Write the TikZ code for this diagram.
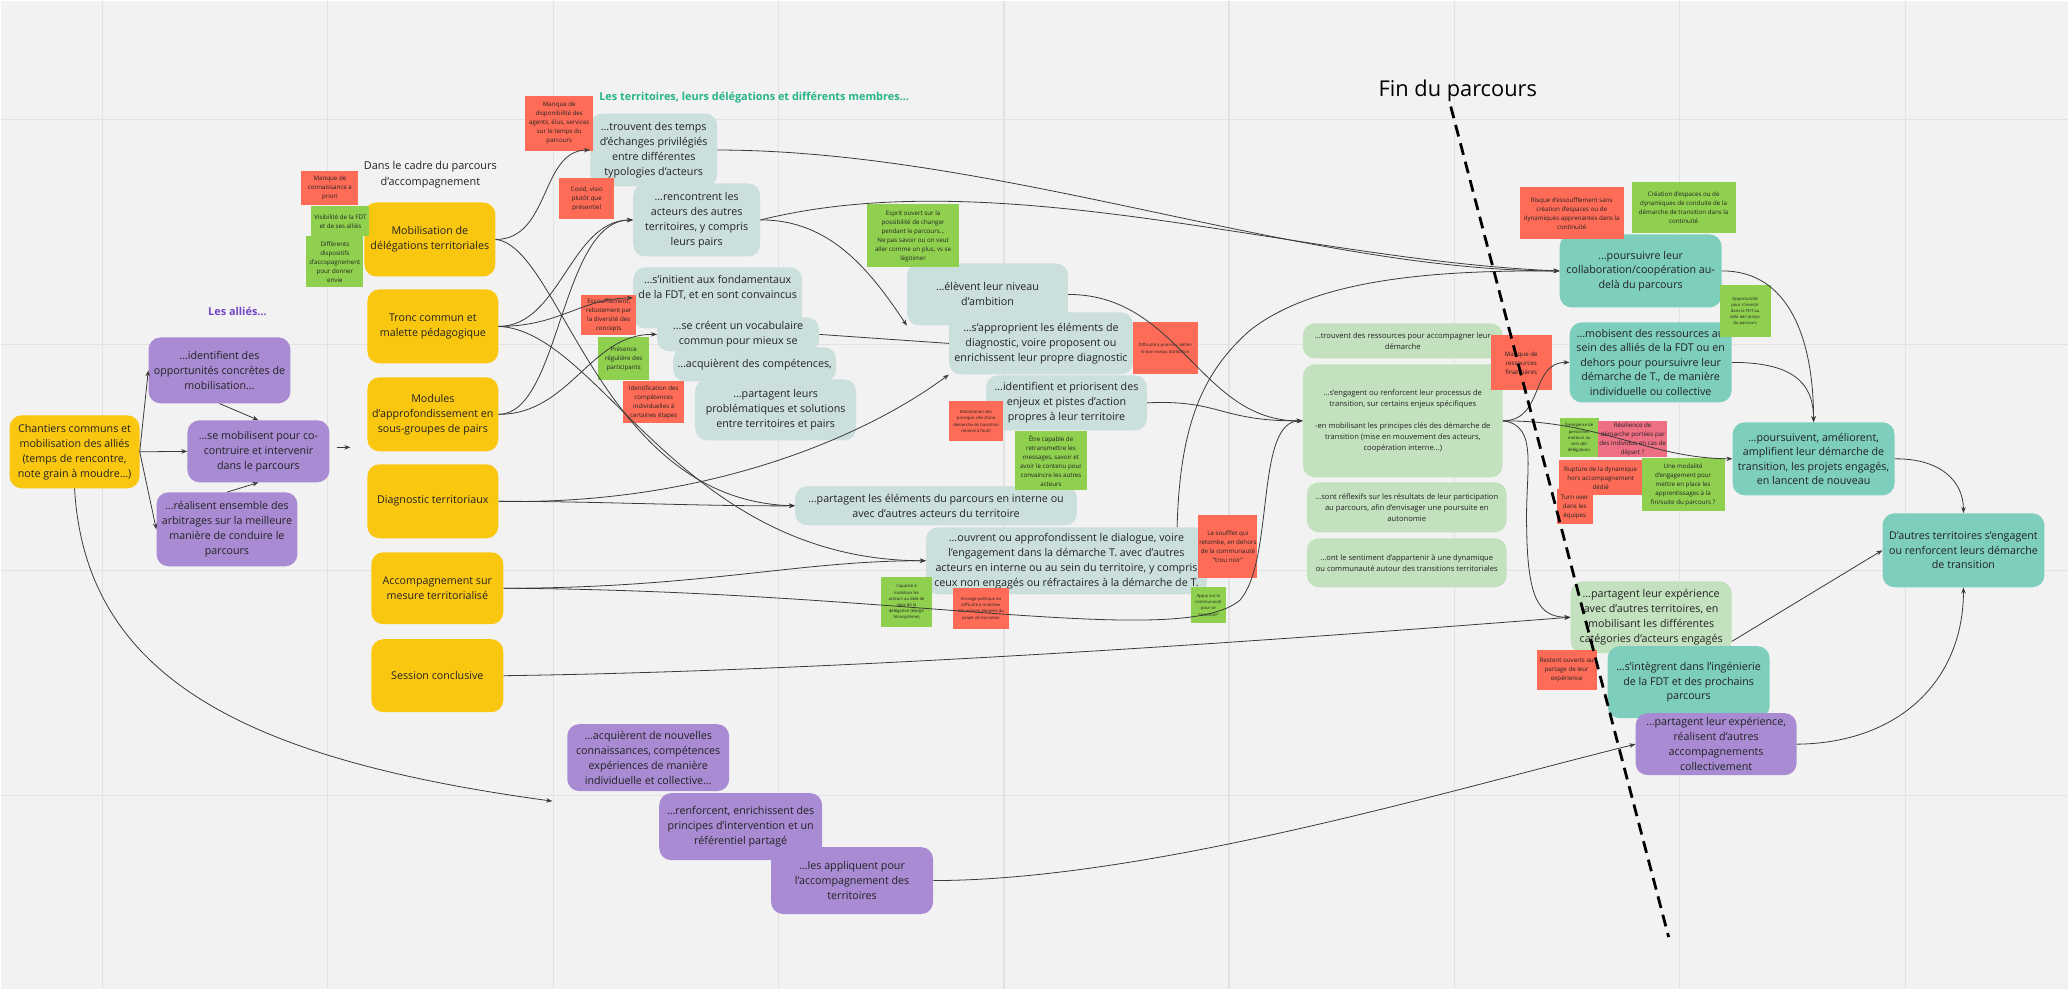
\documentclass[tikz,border=0pt]{standalone}
\usepackage{fontspec}
\setmainfont{Open Sans}
\usetikzlibrary{arrows.meta}
\definecolor{cBg}{HTML}{F2F2F2}
\definecolor{cGrid}{HTML}{E2E2E2}
\definecolor{cTxt}{HTML}{222222}
\definecolor{cLine}{HTML}{3A3A3A}
\definecolor{cYel}{HTML}{FAC710}
\definecolor{cPur}{HTML}{A88BD3}
\definecolor{cBlu}{HTML}{CBDFDD}
\definecolor{cLgr}{HTML}{C3E1BE}
\definecolor{cTea}{HTML}{7DCEBC}
\definecolor{cRed}{HTML}{FE6C57}
\definecolor{cGrn}{HTML}{8FD14F}
\definecolor{cPnk}{HTML}{EE6E83}
\definecolor{cPurT}{HTML}{7446C4}
\definecolor{cGrnT}{HTML}{26B38B}
\newcommand\Bx[7]{%
  \pgfmathsetmacro\bxcx{(#3+#5)/2}%
  \pgfmathsetmacro\bxcy{(#4+#6)/2}%
  \pgfmathsetmacro\bxw{#5-#3}%
  \pgfmathsetmacro\bxh{#6-#4}%
  \node[#2, minimum width=\bxw pt, minimum height=\bxh pt] (#1) at (\bxcx,\bxcy) {#7};}
\begin{document}
\begin{tikzpicture}[x=1pt,y=-1pt,
  box/.style={rounded corners=12pt, align=center, inner sep=2pt, text=cTxt, font=\fontsize{10.7}{15}\selectfont},
  yelbox/.style={box, fill=cYel},
  purbox/.style={box, fill=cPur},
  blubox/.style={box, fill=cBlu},
  lgrbox/.style={box, fill=cLgr, font=\fontsize{7.6}{11}\selectfont},
  lgrbig/.style={box, fill=cLgr},
  teabox/.style={box, fill=cTea, font=\fontsize{10.7}{14.5}\selectfont},
  stick/.style={align=center, inner sep=1pt, text=cTxt, font=\fontsize{6.2}{9}\selectfont},
  sred/.style={stick, fill=cRed},
  sgrn/.style={stick, fill=cGrn},
  spnk/.style={stick, fill=cPnk},
  tiny/.style={font=\fontsize{4.2}{6.2}\selectfont},
  conn/.style={draw=cLine, line width=0.8pt},
  arr/.style={conn, -{Stealth[length=6pt,width=4.5pt]}},
]
\fill[cBg] (0,0) rectangle (2069,989);
\foreach \x in {102,327,553,778,1004,1229,1455,1680,1906} \draw[cGrid, line width=1.2pt] (\x,0) -- (\x,989);
\foreach \y in {119,344,570,795} \draw[cGrid, line width=1.2pt] (0,\y) -- (2069,\y);
\useasboundingbox (0,0) rectangle (2069,989);

% titles
\node[text=cPurT, font=\bfseries\fontsize{10.9}{13}\selectfont] (lalli) at (237,311) {Les alliés…};
\node[text=cGrnT, font=\bfseries\fontsize{10.9}{13}\selectfont] (lterr) at (754,97) {Les territoires, leurs délégations et différents membres…};
\node[text=cTxt, align=center, font=\fontsize{10.9}{16}\selectfont] (ldans) at (430,174) {Dans le cadre du parcours\\d'accompagnement};
\node[text=black, font=\fontsize{21.8}{24}\selectfont] (lfin) at (1458,90) {Fin du parcours};

% yellow
\Bx{chant}{yelbox}{9}{415}{139}{488}{Chantiers communs et\\mobilisation des alliés\\(temps de rencontre,\\note grain à moudre…)}
\Bx{mob}{yelbox}{364}{202}{495}{276}{Mobilisation de\\délégations territoriales}
\Bx{tronc}{yelbox}{367}{289}{498}{363}{Tronc commun et\\malette pédagogique}
\Bx{modu}{yelbox}{367}{377}{498}{451}{Modules\\d'approfondissement en\\sous-groupes de pairs}
\Bx{diag}{yelbox}{367}{464}{498}{538}{Diagnostic territoriaux}
\Bx{accomp}{yelbox}{371}{552}{503}{624}{Accompagnement sur\\mesure territorialisé}
\Bx{sess}{yelbox}{371}{639}{503}{712}{Session conclusive}

% purple
\Bx{ident}{purbox}{148}{337}{290}{403}{…identifient des\\opportunités concrètes de\\mobilisation…}
\Bx{semob}{purbox}{187}{420}{329}{482}{…se mobilisent pour co-\\contruire et intervenir\\dans le parcours}
\Bx{real}{purbox}{156}{492}{297}{566}{…réalisent ensemble des\\arbitrages sur la meilleure\\manière de conduire le\\parcours}
\Bx{acqn}{purbox}{567}{724}{729}{791}{…acquièrent de nouvelles\\connaissances, compétences\\expériences de manière\\individuelle et collective…}
\Bx{renf}{purbox}{659}{793}{822}{860}{…renforcent, enrichissent des\\principes d'intervention et un\\référentiel partagé}
\Bx{appl}{purbox}{771}{847}{933}{914}{…les appliquent pour\\l'accompagnement des\\territoires}

% blue-grey
\Bx{trouv}{blubox}{590}{113}{717}{186}{…trouvent des temps\\d'échanges privilégiés\\entre différentes\\typologies d'acteurs}
\Bx{renc}{blubox}{633}{183}{760}{256}{…rencontrent les\\acteurs des autres\\territoires, y compris\\leurs pairs}
\Bx{init}{blubox}{633}{267}{802}{328}{…s'initient aux fondamentaux\\de la FDT, et en sont convaincus\\[8pt]}
\Bx{crea}{blubox}{657}{317}{819}{351}{…se créent un vocabulaire\\commun pour mieux se}
\Bx{acqc}{blubox}{673}{347}{836}{381}{…acquièrent des compétences,}
\Bx{partl}{blubox}{695}{379}{856}{440}{…partagent leurs\\problématiques et solutions\\entre territoires et pairs}
\Bx{elev}{blubox}{907}{263}{1068}{325}{…élèvent leur niveau\\d'ambition}
\Bx{appr}{blubox}{949}{312}{1133}{374}{…s'approprient les éléments de\\diagnostic, voire proposent ou\\enrichissent leur propre diagnostic}
\Bx{prio}{blubox}{986}{375}{1147}{430}{…identifient et priorisent des\\enjeux et pistes d'action\\propres à leur territoire}
\Bx{parte}{blubox}{795}{486}{1077}{525}{…partagent les éléments du parcours en interne ou\\avec d'autres acteurs du territoire}
\Bx{ouvr}{blubox}{926}{527}{1207}{594}{…ouvrent ou approfondissent le dialogue, voire\\l'engagement dans la démarche T. avec d'autres\\acteurs en interne ou au sein du territoire, y compris\\ceux non engagés ou réfractaires à la démarche de T.}

% light green
\Bx{tres}{lgrbox}{1303}{323}{1503}{358}{…trouvent des ressources pour accompagner leur\\démarche}
\Bx{eng}{lgrbox}{1303}{364}{1503}{477}{…s'engagent ou renforcent leur processus de\\transition, sur certains enjeux spécifiques\\[11pt]-en mobilisant les principes clés des démarche de\\transition (mise en mouvement des acteurs,\\coopération interne…)}
\Bx{refl}{lgrbox}{1307}{482}{1507}{532}{…sont réflexifs sur les résultats de leur participation\\au parcours, afin d'envisager une poursuite en\\autonomie}
\Bx{sent}{lgrbox}{1307}{538}{1507}{587}{…ont le sentiment d'appartenir à une dynamique\\ou communauté autour des transitions territoriales}
\Bx{gpart}{lgrbig}{1571}{581}{1732}{653}{…partagent leur expérience\\avec d'autres territoires, en\\mobilisant les différentes\\catégories d'acteurs engagés}

% teal
\Bx{pours}{teabox}{1560}{234}{1722}{307}{…poursuivre leur\\collaboration/coopération au-\\delà du parcours}
\Bx{mobi}{teabox}{1570}{322}{1732}{402}{…mobisent des ressources au\\sein des alliés de la FDT ou en\\dehors pour poursuivre leur\\démarche de T., de manière\\individuelle ou collective}
\Bx{poursv}{teabox}{1733}{422}{1895}{495}{…poursuivent, améliorent,\\amplifient leur démarche de\\transition, les projets engagés,\\en lancent de nouveau}
\Bx{autres}{teabox}{1883}{513}{2045}{587}{D'autres territoires s'engagent\\ou renforcent leurs démarche\\de transition}
\Bx{integ}{teabox}{1608}{646}{1770}{718}{…s'intègrent dans l'ingénierie\\de la FDT et des prochains\\parcours}
\Bx{ppart}{purbox}{1636}{713}{1797}{775}{…partagent leur expérience,\\réalisent d'autres\\accompagnements\\collectivement}

% stickies
\Bx{r1}{sred}{301}{170}{358}{205}{Manque de\\connaissance a\\priori}
\Bx{g1}{sgrn}{311}{206}{369}{236}{Visibilité de la FDT\\et de ses alliés}
\Bx{g2}{sgrn}{306}{236}{363}{287}{Différents\\dispositifs\\d'accopagnement\\pour donner\\envie}
\Bx{r2}{sred}{525}{95}{593}{150}{Manque de\\disponibilité des\\agents, élus, services\\sur le temps du\\parcours}
\Bx{r3}{sred}{559}{178}{614}{219}{Covid, visio\\plutôt que\\présentiel}
\Bx{r4}{sred}{581}{295}{636}{335}{Essoufflement,\\rebutement par\\la diversité des\\concepts}
\Bx{g3}{sgrn}{598}{337}{649}{380}{Présence\\régulière des\\participants}
\Bx{r5}{sred}{623}{381}{684}{423}{Identification des\\compétences\\individuelles à\\certaines étapes}
\Bx{g4}{sgrn}{867}{204}{959}{267}{Esprit ouvert sur la\\possibilité de changer\\pendant le parcours…\\Ne pas savoir ou on veut\\aller comme un plus, vs se\\légitimer}
\Bx{r6}{sred,tiny}{1133}{322}{1198}{374}{Difficulté à prioriser, définir\\le bon niveau d'ambition}
\Bx{r7}{sred,tiny}{949}{401}{1003}{441}{Mobilisation des\\principes clés d'une\\démarche de transition\\relative à l'outil}
\Bx{g5}{sgrn}{1015}{431}{1087}{490}{Être capable de\\retransmettre les\\messages, savoir et\\avoir le contenu pour\\convaincre les autres\\acteurs}
\Bx{g6}{sgrn,tiny}{881}{577}{932}{627}{Capacité à\\mobiliser les\\acteurs au delà de\\ceux de la\\délégation (élargir\\l'écosystème)}
\Bx{r8}{sred,tiny}{953}{588}{1009}{629}{Ancrage politique ou\\difficulté à mobiliser\\des acteurs éloignés du\\projet de transition}
\Bx{r9}{sred}{1201}{515}{1255}{578}{Le soufflet qui\\retombe, en dehors\\de la communauté\\"trou noir"}
\Bx{g7}{sgrn,tiny}{1191}{587}{1226}{623}{Appui sur la\\communauté\\pour se\\"recentrer"}
\Bx{r10}{sred}{1491}{335}{1552}{390}{Manque de\\ressources\\financières}
\Bx{r11}{sred}{1520}{187}{1624}{239}{Risque d'essoufflement sans\\création d'espaces ou de\\dynamiques apprenantes dans la\\continuité}
\Bx{g8}{sgrn}{1632}{182}{1736}{233}{Création d'espaces ou de\\dynamiques de conduite de la\\démarche de transition dans la\\continuité}
\Bx{g9}{sgrn,tiny}{1720}{285}{1771}{337}{Opportunités\\pour s'investir\\dans la FDT au\\delà des temps\\du parcours}
\Bx{g10}{sgrn,tiny}{1560}{418}{1599}{457}{Émergence de\\personnes\\moteurs au\\sein des\\délégations}
\Bx{pk}{spnk}{1599}{421}{1667}{457}{Résilience de\\démarche portées par\\des individus en cas de\\départ ?}
\Bx{r12}{sred}{1559}{460}{1643}{495}{Rupture de la dynamique\\hors accompagnement\\dédié}
\Bx{r13}{sred}{1557}{489}{1593}{524}{Turn over\\dans les\\équipes}
\Bx{g11}{sgrn}{1642}{458}{1725}{511}{Une modalité\\d'engagement pour\\mettre en place les\\apprentissages à la\\fin/suite du parcours ?}
\Bx{r14}{sred}{1537}{650}{1597}{690}{Restent ouverts au\\partage de leur\\expérience}

% connectors
\draw[arr] (chant.east) -- (ident.west);
\draw[arr] (chant.east) -- (semob.west);
\draw[arr] (chant.east) -- (real.west);
\draw[arr] (ident.south) -- (semob.north);
\draw[arr] (real.north) -- (semob.south);
\coordinate (sa1) at (337,447); \coordinate (sa2) at (350,447);
\draw[arr] (sa1) -- (sa2);
\coordinate (chantend) at (552,801);
\draw[arr] (chant.south) .. controls (85,680) and (250,760) .. (chantend);

\draw[arr] (mob.east) .. controls (550,239) and (540,150) .. (trouv.west);
\draw[arr] (mob.east) .. controls (560,245) and (600,500) .. (parte.west);
\draw[arr] (tronc.east) .. controls (560,326) and (570,220) .. (renc.west);
\draw[arr] (tronc.east) .. controls (560,326) and (580,298) .. (init.west);
\draw[arr] (tronc.east) .. controls (600,330) and (680,560) .. (ouvr.west);
\draw[arr] (modu.east) .. controls (560,414) and (560,220) .. (renc.west);
\draw[arr] (modu.east) .. controls (570,414) and (590,333) .. (crea.west);
\draw[arr] (diag.east) .. controls (600,501) and (700,506) .. (parte.west);
\draw[arr] (diag.east) .. controls (700,505) and (860,440) .. (appr.south west);
\draw[arr] (accomp.east) .. controls (700,588) and (800,560) .. (ouvr.west);
\draw[arr] (accomp.east) .. controls (900,590) and (1180,650) .. (1240,600) .. controls (1275,560) and (1255,421) .. (eng.west);
\draw[arr] (sess.east) .. controls (900,670) and (1400,630) .. (gpart.west);

\draw[arr] (trouv.east) .. controls (1000,150) and (1300,270) .. (pours.west);
\draw[arr] (renc.east) .. controls (1000,160) and (1300,260) .. (pours.west);
\draw[arr] ([xshift=-30pt]ouvr.north east) .. controls (1180,420) and (1205,370) .. (1250,330) .. controls (1320,275) and (1450,270) .. (pours.west);
\draw[arr] (renc.east) .. controls (830,219) and (870,270) .. (elev.south west);
\draw[conn] (crea.east) -- (appr.west);
\draw[arr] (elev.east) .. controls (1180,294) and (1200,421) .. (eng.west);
\draw[arr] (prio.east) .. controls (1220,399) and (1220,421) .. (eng.west);

\draw[arr] (eng.east) .. controls (1545,420) and (1530,362) .. (mobi.west);
\draw[arr] (eng.east) .. controls (1600,420) and (1650,458) .. (poursv.west);
\draw[arr] (eng.east) .. controls (1540,425) and (1525,470) .. (1527,530) .. controls (1528,600) and (1540,617) .. (gpart.west);
\draw[arr] ([yshift=12pt]gpart.south east) -- (autres.west);
\draw[arr] (pours.east) .. controls (1790,270) and (1814,340) .. (poursv.north);
\draw[arr] (mobi.east) .. controls (1790,362) and (1814,380) .. (poursv.north);
\draw[arr] (poursv.east) .. controls (1940,458) and (1964,480) .. (autres.north);
\draw[arr] (ppart.east) .. controls (1900,743) and (1964,680) .. (autres.south);
\draw[arr] (appl.east) .. controls (1150,880) and (1450,790) .. (ppart.west);

% end of course
\coordinate (fin1) at (1451,106);
\coordinate (fin2) at (1669,937);
\draw[black, line width=2.8pt, dash pattern=on 12pt off 7pt] (fin1) -- (fin2);
\end{tikzpicture}
\end{document}
